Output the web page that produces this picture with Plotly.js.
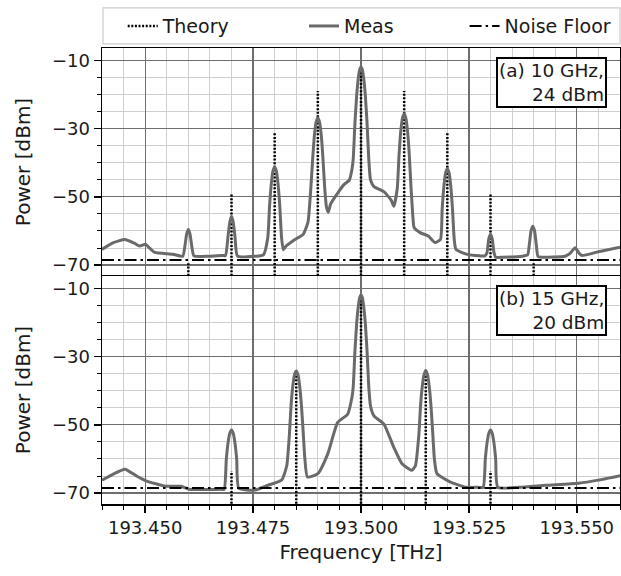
<!DOCTYPE html>
<html>
<head>
<meta charset="utf-8">
<script src="https://cdn.plot.ly/plotly-3.0.1.min.js"></script>
<style>html,body{margin:0;padding:0;background:#fff;}#chart{width:621px;height:576px;}</style>
</head>
<body>
<div id="chart"></div>
<script>
// ---------- data ----------
// (a) 10 GHz, 24 dBm
const theoryFreqA = [193.460, 193.470, 193.480, 193.490, 193.500, 193.510, 193.520, 193.530, 193.540];
const theoryPowA  = [-69.5, -49.3, -31.4, -19.0, -12.0, -19.0, -31.4, -49.0, -69.5];
// measured spectrum (a): frequency offset from 193.440 THz in GHz, power in dBm
const measOffA = [0,2.5,5.3,7.5,8.7,10.1,11.0,12.2,16.4,18.7,19.2,19.6,20.0,20.4,20.8,21.3,24.8,27.8,28.6,29.2,29.6,30.0,30.4,30.8,31.4,35.5,37.4,38.4,38.8,39.2,39.6,40.0,40.4,40.8,41.2,41.6,42.0,42.6,44.7,46.6,47.7,48.4,48.8,49.2,49.6,50.0,50.4,50.8,51.2,51.6,52.0,52.4,53.0,54.6,56.0,57.3,57.9,58.2,58.6,59.0,59.4,59.7,60.0,60.3,60.6,61.0,61.4,61.8,62.2,63.0,65.3,67.0,67.6,68.4,68.8,69.2,69.6,70.0,70.4,70.8,71.2,71.6,72.0,72.3,73.7,75.6,77.1,78.4,78.8,79.2,79.6,80.0,80.4,80.8,81.2,81.6,82.0,84.4,87.5,88.7,89.2,89.6,90.0,90.4,90.8,91.2,92.8,97.4,98.6,99.0,99.4,99.8,100.2,100.6,101.0,102.0,107.3,108.5,109.6,110.5,111.2,115.0,120.0];
const measPowA = [-65.4,-63.5,-62.5,-63.6,-64.4,-63.9,-65.0,-66.3,-66.8,-67.4,-64.5,-61.0,-59.6,-61.0,-64.5,-67.3,-67.4,-67.2,-67.2,-61.5,-57.5,-55.7,-57.5,-61.5,-67.4,-67.4,-67.0,-62.0,-53.0,-46.5,-42.5,-41.2,-42.5,-46.5,-53.0,-62.0,-65.5,-64.5,-62.5,-61.0,-57.5,-47.0,-39.0,-32.1,-28.1,-26.8,-28.1,-32.1,-39.0,-47.5,-53.0,-54.5,-52.0,-48.9,-46.5,-45.1,-42.0,-38.9,-28.3,-20.3,-15.0,-12.7,-12.0,-12.7,-15.0,-20.3,-28.3,-38.9,-45.0,-47.0,-48.5,-51.0,-52.8,-47.5,-38.0,-31.0,-27.0,-25.7,-27.0,-31.0,-38.0,-47.5,-55.5,-59.0,-60.5,-61.5,-63.4,-62.5,-53.7,-47.0,-43.0,-41.7,-43.0,-47.0,-53.7,-62.5,-65.4,-66.8,-67.3,-67.3,-66.3,-62.3,-61.0,-62.3,-66.3,-67.7,-67.7,-67.4,-67.0,-63.9,-59.9,-58.6,-59.9,-63.9,-67.5,-67.7,-67.4,-66.5,-64.9,-66.5,-67.2,-66.1,-64.8];
// (b) 15 GHz, 20 dBm
const theoryFreqB = [193.470, 193.485, 193.500, 193.515, 193.530];
const theoryPowB  = [-63.5, -34.5, -12.0, -34.5, -63.5];
const measOffB = [0,2.5,5.3,8.0,10.2,14.8,18.3,20.2,27.4,28.3,28.8,29.2,29.6,30.0,30.4,30.8,31.2,31.7,35.5,38.5,41.6,42.8,43.4,43.8,44.2,44.6,45.0,45.4,45.8,46.2,46.6,47.0,47.6,50.0,52.3,54.6,56.9,57.9,58.2,58.6,59.0,59.4,59.7,60.0,60.3,60.6,61.0,61.4,61.8,62.2,63.0,65.3,67.6,69.5,71.8,72.6,73.4,73.8,74.2,74.6,75.0,75.4,75.8,76.2,76.6,77.0,77.6,80.6,84.4,87.1,88.3,88.8,89.2,89.6,90.0,90.4,90.8,91.2,91.7,96.6,102.8,110.4,115.0,120.0];
const measPowB = [-66.2,-64.5,-63.0,-65.0,-66.4,-68.0,-68.0,-68.9,-68.9,-68.9,-60.0,-55.3,-52.5,-51.5,-52.5,-55.3,-60.0,-68.6,-69.1,-67.7,-66.2,-62.0,-53.0,-44.3,-38.7,-35.3,-34.2,-35.3,-38.7,-44.3,-52.0,-60.0,-65.3,-64.3,-58.5,-49.3,-46.9,-42.0,-38.9,-28.3,-20.3,-15.0,-12.7,-12.0,-12.7,-15.0,-20.3,-28.3,-38.9,-44.5,-47.4,-49.8,-56.6,-61.4,-63.3,-62.0,-53.0,-44.3,-38.7,-35.3,-34.1,-35.3,-38.7,-44.3,-52.0,-60.0,-64.3,-66.7,-68.3,-68.3,-68.3,-60.0,-55.3,-52.5,-51.5,-52.5,-55.3,-60.0,-68.3,-68.3,-67.7,-67.1,-66.2,-64.9];
const offsetBase = 193.440;   // THz
const noiseFloor = -68.5;
const xRange = [193.440, 193.560];
const xTickLabels = ['193.450','193.475','193.500','193.525','193.550'];
const xTickVals = [193.450, 193.475, 193.500, 193.525, 193.550];
const yTickVals = [-10, -30, -50, -70];
const stemBase = -90;

// ---------- helpers ----------
const measFreqA = measOffA.map(g => offsetBase + g / 1000);
const measFreqB = measOffB.map(g => offsetBase + g / 1000);
function stems(freqs, pows) {
  const x = [], y = [];
  freqs.forEach((f, i) => { x.push(f, f, null); y.push(stemBase, pows[i], null); });
  return {x, y};
}
const sA = stems(theoryFreqA, theoryPowA);
const sB = stems(theoryFreqB, theoryPowB);

const measStyle = {color: '#6a6a6a', width: 3, shape: 'spline', smoothing: 0.5};
const theoryStyle = {color: '#000000', width: 2.5, dash: '2px,1.6px'};
const noiseStyle = {color: '#000000', width: 2, dash: '12px,4px,2.5px,4px'};

const traces = [
  {x: sA.x, y: sA.y, type: 'scatter', mode: 'lines', name: 'Theory', line: theoryStyle, xaxis: 'x', yaxis: 'y', legend: 'legend', showlegend: true},
  {x: measFreqA, y: measPowA, type: 'scatter', mode: 'lines', name: 'Meas', line: measStyle, xaxis: 'x', yaxis: 'y', legend: 'legend2', showlegend: true},
  {x: xRange, y: [noiseFloor, noiseFloor], type: 'scatter', mode: 'lines', name: 'Noise Floor', line: noiseStyle, xaxis: 'x', yaxis: 'y', legend: 'legend3', showlegend: true},
  {x: sB.x, y: sB.y, type: 'scatter', mode: 'lines', name: 'Theory', line: theoryStyle, xaxis: 'x2', yaxis: 'y2', showlegend: false},
  {x: measFreqB, y: measPowB, type: 'scatter', mode: 'lines', name: 'Meas', line: measStyle, xaxis: 'x2', yaxis: 'y2', showlegend: false},
  {x: xRange, y: [noiseFloor, noiseFloor], type: 'scatter', mode: 'lines', name: 'Noise Floor', line: noiseStyle, xaxis: 'x2', yaxis: 'y2', showlegend: false}
];

const FONT = 'DejaVu Sans, sans-serif';
function xAxis(showLabels, anchor) {
  return {
    range: xRange, anchor: anchor,
    tickmode: 'array', tickvals: xTickVals, ticktext: xTickLabels,
    showticklabels: showLabels,
    ticks: showLabels ? 'outside' : '', ticklen: 7, tickwidth: 1.5, tickcolor: '#000',
    showgrid: true, gridcolor: '#6e6e6e', gridwidth: 1.3,
    minor: {dtick: 0.005, tick0: 193.45, showgrid: true, gridcolor: '#cfcfcf', gridwidth: 1, ticks: showLabels ? 'outside' : '', ticklen: 4, tickcolor: '#000', tickwidth: 1},
    showline: true, linecolor: '#000', linewidth: 1.5,
    mirror: showLabels ? true : false,
    side: showLabels ? 'bottom' : 'top',
    zeroline: false,
    tickfont: {family: FONT, size: 18, color: '#1a1a1a'}
  };
}
function yAxis(domain, anchor) {
  return {
    domain: domain, anchor: anchor, range: [-73.2, -6.4],
    tickmode: 'array', tickvals: yTickVals,
    ticks: 'outside', ticklen: 7, tickwidth: 1.5, tickcolor: '#000',
    showgrid: true, gridcolor: '#6e6e6e', gridwidth: 1.3,
    minor: {dtick: 5, tick0: -10, showgrid: true, gridcolor: '#cfcfcf', gridwidth: 1, ticks: 'outside', ticklen: 4, tickcolor: '#000', tickwidth: 1},
    showline: true, linecolor: '#000', linewidth: 1.5, mirror: true,
    zeroline: false,
    tickfont: {family: FONT, size: 18, color: '#1a1a1a'},
    title: {text: 'Power [dBm]', font: {family: FONT, size: 20, color: '#1a1a1a'}, standoff: 16}
  };
}

const legendCommon = {orientation: 'h', yanchor: 'middle', y: 1.048, xanchor: 'left', bgcolor: 'rgba(0,0,0,0)', borderwidth: 0,
  font: {family: FONT, size: 19, color: '#1a1a1a'}};

const layout = {
  width: 621, height: 576,
  margin: {l: 102, r: 1, t: 48, b: 72},
  paper_bgcolor: '#fff', plot_bgcolor: '#fff',
  font: {family: FONT, color: '#1a1a1a'},
  xaxis: Object.assign(xAxis(false, 'y'), {matches: 'x2'}),
  yaxis: yAxis([0.5, 1], 'x'),
  xaxis2: Object.assign(xAxis(true, 'y2'), {title: {text: 'Frequency [THz]', font: {family: FONT, size: 20, color: '#1a1a1a'}, standoff: 8}}),
  yaxis2: yAxis([0, 0.5], 'x2'),
  legend: Object.assign({}, legendCommon, {x: 0.04}),
  legend2: Object.assign({}, legendCommon, {x: 0.39}),
  legend3: Object.assign({}, legendCommon, {x: 0.70}),
  shapes: [
    {type: 'rect', xref: 'paper', yref: 'paper', x0: 0.002, x1: 1.0, y0: 1.009, y1: 1.088, line: {color: '#cccccc', width: 1.2}, fillcolor: 'rgba(0,0,0,0)', layer: 'below'}
  ],
  annotations: [
    {xref: 'paper', yref: 'paper', x: 0.975, y: 0.98, xanchor: 'right', yanchor: 'top', align: 'right', showarrow: false,
     text: '(a) 10 GHz,<br>24 dBm', font: {family: FONT, size: 18.5, color: '#1a1a1a'},
     bgcolor: '#fff', bordercolor: '#000', borderwidth: 2, borderpad: 1},
    {xref: 'paper', yref: 'paper', x: 0.975, y: 0.48, xanchor: 'right', yanchor: 'top', align: 'right', showarrow: false,
     text: '(b) 15 GHz,<br>20 dBm', font: {family: FONT, size: 18.5, color: '#1a1a1a'},
     bgcolor: '#fff', bordercolor: '#000', borderwidth: 2, borderpad: 1}
  ]
};

Plotly.newPlot('chart', traces, layout, {displayModeBar: false, staticPlot: true});
</script>
</body>
</html>
